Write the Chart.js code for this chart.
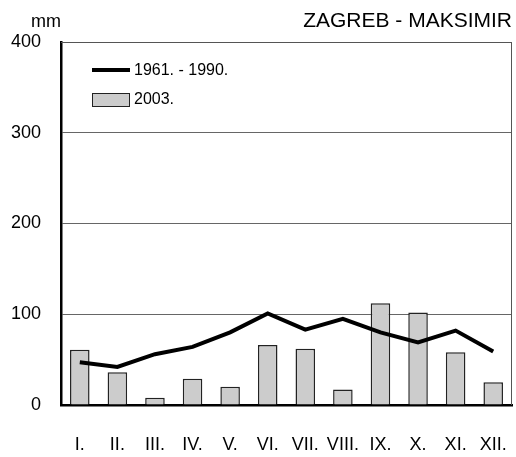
<!DOCTYPE html>
<html>
<head>
<meta charset="utf-8">
<script src="https://cdn.jsdelivr.net/npm/chart.js@4"></script>
<style>
  body { margin: 0; background: #fff; }
  #wrap { width: 516px; height: 457px; }
</style>
</head>
<body>
<div id="wrap"><canvas id="mycanvas" width="516" height="457"></canvas></div>
<script>
// months (roman numerals), precipitation in mm
var months = ["I.", "II.", "III.", "IV.", "V.", "VI.", "VII.", "VIII.", "IX.", "X.", "XI.", "XII."];
var rain2003 = [61, 36, 8, 29, 20, 66, 62, 17, 112, 102, 58, 25];
var rainAvg = [47, 42, 56, 64, 80, 101, 83, 95, 80, 69, 82, 59];
var yTicks = [0, 100, 200, 300, 400];

var FONT = "'Liberation Sans', Arial, sans-serif";

// title, unit, frame and legend
var extras = {
  id: 'extras',
  afterDraw: function(chart) {
    var c = chart.ctx, a = chart.chartArea;
    c.save();
    c.strokeStyle = "#555";
    c.lineWidth = 1;
    c.beginPath();
    c.moveTo(a.left, a.top + 0.5);
    c.lineTo(a.right - 0.5, a.top + 0.5);
    c.lineTo(a.right - 0.5, a.bottom);
    c.stroke();

    c.fillStyle = "#000";
    c.textBaseline = "alphabetic";
    c.font = "21px " + FONT;
    c.textAlign = "right";
    c.fillText("ZAGREB - MAKSIMIR", 512, 27);
    c.font = "18px " + FONT;
    c.textAlign = "left";
    c.fillText("mm", 31, 27);

    // legend
    c.lineWidth = 4;
    c.strokeStyle = "#000";
    c.beginPath();
    c.moveTo(92, 70);
    c.lineTo(130, 70);
    c.stroke();
    c.fillStyle = "#cccccc";
    c.fillRect(92, 93, 38, 14);
    c.lineWidth = 1;
    c.strokeStyle = "#222";
    c.strokeRect(92.5, 93.5, 37, 13);
    c.fillStyle = "#000";
    c.font = "16px " + FONT;
    c.textBaseline = "middle";
    c.fillText("1961. - 1990.", 134, 71);
    c.fillText("2003.", 134, 100);
    c.restore();
  }
};

var ctx = document.getElementById("mycanvas");
var chart = new Chart(ctx, {
  data: {
    labels: months,
    datasets: [
      {
        type: 'line',
        label: "1961. - 1990.",
        data: rainAvg,
        borderColor: "#000",
        borderWidth: 4,
        pointRadius: 0,
        tension: 0,
        fill: false,
        order: 0
      },
      {
        type: 'bar',
        label: "2003.",
        data: rain2003,
        backgroundColor: "#cccccc",
        borderColor: "#222",
        borderWidth: 1.5,
        categoryPercentage: 1,
        barPercentage: 0.52,
        order: 1
      }
    ]
  },
  plugins: [extras],
  options: {
    responsive: false,
    animation: false,
    layout: { padding: { top: 42, right: 4, left: 0, bottom: 0 } },
    scales: {
      x: {
        grid: { display: false, drawTicks: false },
        border: { display: true, color: "#000", width: 2.5 },
        ticks: { color: "#000", font: { size: 18, family: FONT }, padding: 29, maxRotation: 0, autoSkip: false },
        afterFit: function(s) { s.height = 52; s.paddingLeft = 0; s.paddingRight = 0; }
      },
      y: {
        min: 0,
        max: 400,
        afterBuildTicks: function(s) { s.ticks = yTicks.map(function(v) { return { value: v }; }); },
        grid: { color: "#666", lineWidth: 1, drawTicks: false },
        border: { display: true, color: "#000", width: 2.5 },
        ticks: { color: "#000", font: { size: 18, family: FONT }, padding: 20 },
        afterFit: function(s) { s.width = 61; s.paddingTop = 0; s.paddingBottom = 0; }
      }
    },
    plugins: {
      legend: { display: false },
      tooltip: { enabled: false }
    }
  }
});
</script>
</body>
</html>
